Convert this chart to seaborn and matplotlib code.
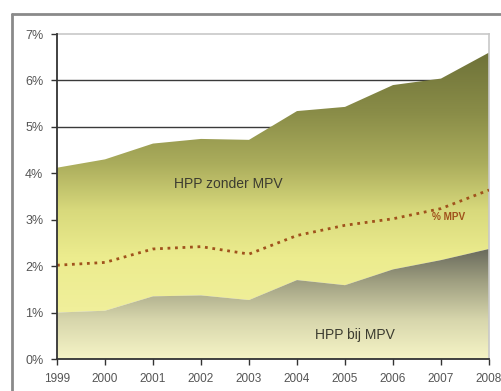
import numpy as np
import pandas as pd
import matplotlib
matplotlib.use("Agg")
import matplotlib.pyplot as plt
from matplotlib.colors import LinearSegmentedColormap
from matplotlib.lines import Line2D
import seaborn as sns

years = [1999, 2000, 2001, 2002, 2003, 2004, 2005, 2006, 2007, 2008]
hpp_totaal = [4.12, 4.30, 4.64, 4.74, 4.72, 5.34, 5.43, 5.90, 6.04, 6.60]
hpp_bij_mpv = [1.00, 1.04, 1.35, 1.37, 1.27, 1.70, 1.59, 1.93, 2.13, 2.37]
pct_mpv = [2.02, 2.08, 2.37, 2.42, 2.26, 2.66, 2.88, 3.02, 3.24, 3.64]
y_ticks = [0, 1, 2, 3, 4, 5, 6, 7]
y_labels = ["0%", "1%", "2%", "3%", "4%", "5%", "6%", "7%"]

df = pd.DataFrame({"jaar": years, "totaal": hpp_totaal, "bij": hpp_bij_mpv, "mpv": pct_mpv})

sns.set_style("white")
plt.rcParams['font.family'] = ['Liberation Sans', 'DejaVu Sans']

fig = plt.figure(figsize=(5.02, 3.91), dpi=100)
ax = fig.add_axes([57/502, 1 - 359/391, (489 - 57)/502, (359 - 34)/391])

ax.set_xlim(1999, 2008)
ax.set_ylim(0, 7)

# gridlines (visible only above areas)
for g in [5, 6]:
    ax.axhline(g, color="#3a3a3a", lw=1.0, zorder=0.5)

# gradients
upper_cmap = LinearSegmentedColormap.from_list(
    "upper", [(0.0, "#f4f2a6"), (2.2/6.8, "#ecec8e"), (3.2/6.8, "#d8d97c"),
              (4.2/6.8, "#abad5c"), (5.3/6.8, "#8a8d48"), (1.0, "#6a6e36")])
lower_cmap = LinearSegmentedColormap.from_list(
    "lower", [(0.0, "#f6f4c6"), (0.35, "#d7d6ac"), (0.7, "#9e9e80"), (1.0, "#66675a")])

poly_up = ax.fill_between(df["jaar"], df["bij"], df["totaal"], facecolor="none", edgecolor="none")
grad = np.linspace(0, 1, 256).reshape(-1, 1)
im1 = ax.imshow(grad, cmap=upper_cmap, aspect="auto", origin="lower",
                extent=[1999, 2008, 0, 6.8], zorder=1)
im1.set_clip_path(poly_up.get_paths()[0], transform=ax.transData)

poly_lo = ax.fill_between(df["jaar"], 0, df["bij"], facecolor="none", edgecolor="none")
im2 = ax.imshow(grad, cmap=lower_cmap, aspect="auto", origin="lower",
                extent=[1999, 2008, 0, 2.4], zorder=1)
im2.set_clip_path(poly_lo.get_paths()[0], transform=ax.transData)
ax.set_xlim(1999, 2008)
ax.set_ylim(0, 7)

sns.lineplot(data=df, x="jaar", y="mpv", ax=ax, color="#a0521c", lw=2.0,
             linestyle=(0, (1.0, 1.7)), zorder=3)

ax.text(2002.56, 3.78, "HPP zonder MPV", ha="center", va="center", fontsize=10, color="#3c3c30", zorder=4)
ax.text(2005.2, 0.52, "HPP bij MPV", ha="center", va="center", fontsize=10, color="#3c3c30", zorder=4)
ax.text(2007.15, 3.06, "% MPV", ha="center", va="center", fontsize=7.2, color="#a0521c",
        fontweight="bold", zorder=4)

ax.set_xticks(years)
ax.set_xticklabels([str(y) for y in years], fontsize=8.5, color="#555555")
ax.set_yticks(y_ticks)
ax.set_yticklabels(y_labels, fontsize=9, color="#555555")
ax.set_xlabel("")
ax.set_ylabel("")
ax.tick_params(axis="both", which="both", direction="out", length=4.3, width=1.0,
               color="#333333", pad=5.5, left=True, bottom=True)

for s in ["left", "bottom"]:
    ax.spines[s].set_color("#333333")
    ax.spines[s].set_linewidth(1.3)
    ax.spines[s].set_zorder(5)
for s in ["top", "right"]:
    ax.spines[s].set_color("#c8c8c8")
    ax.spines[s].set_linewidth(1.2)

# outer frame
fig.add_artist(Line2D([12/502, 12/502], [0, 1 - 14/391], color="#8a8a8a", lw=2.0,
                      transform=fig.transFigure))
fig.add_artist(Line2D([12/502, 1.0], [1 - 14/391, 1 - 14/391], color="#8a8a8a", lw=2.0,
                      transform=fig.transFigure))

fig.savefig("out.png", dpi=100)
